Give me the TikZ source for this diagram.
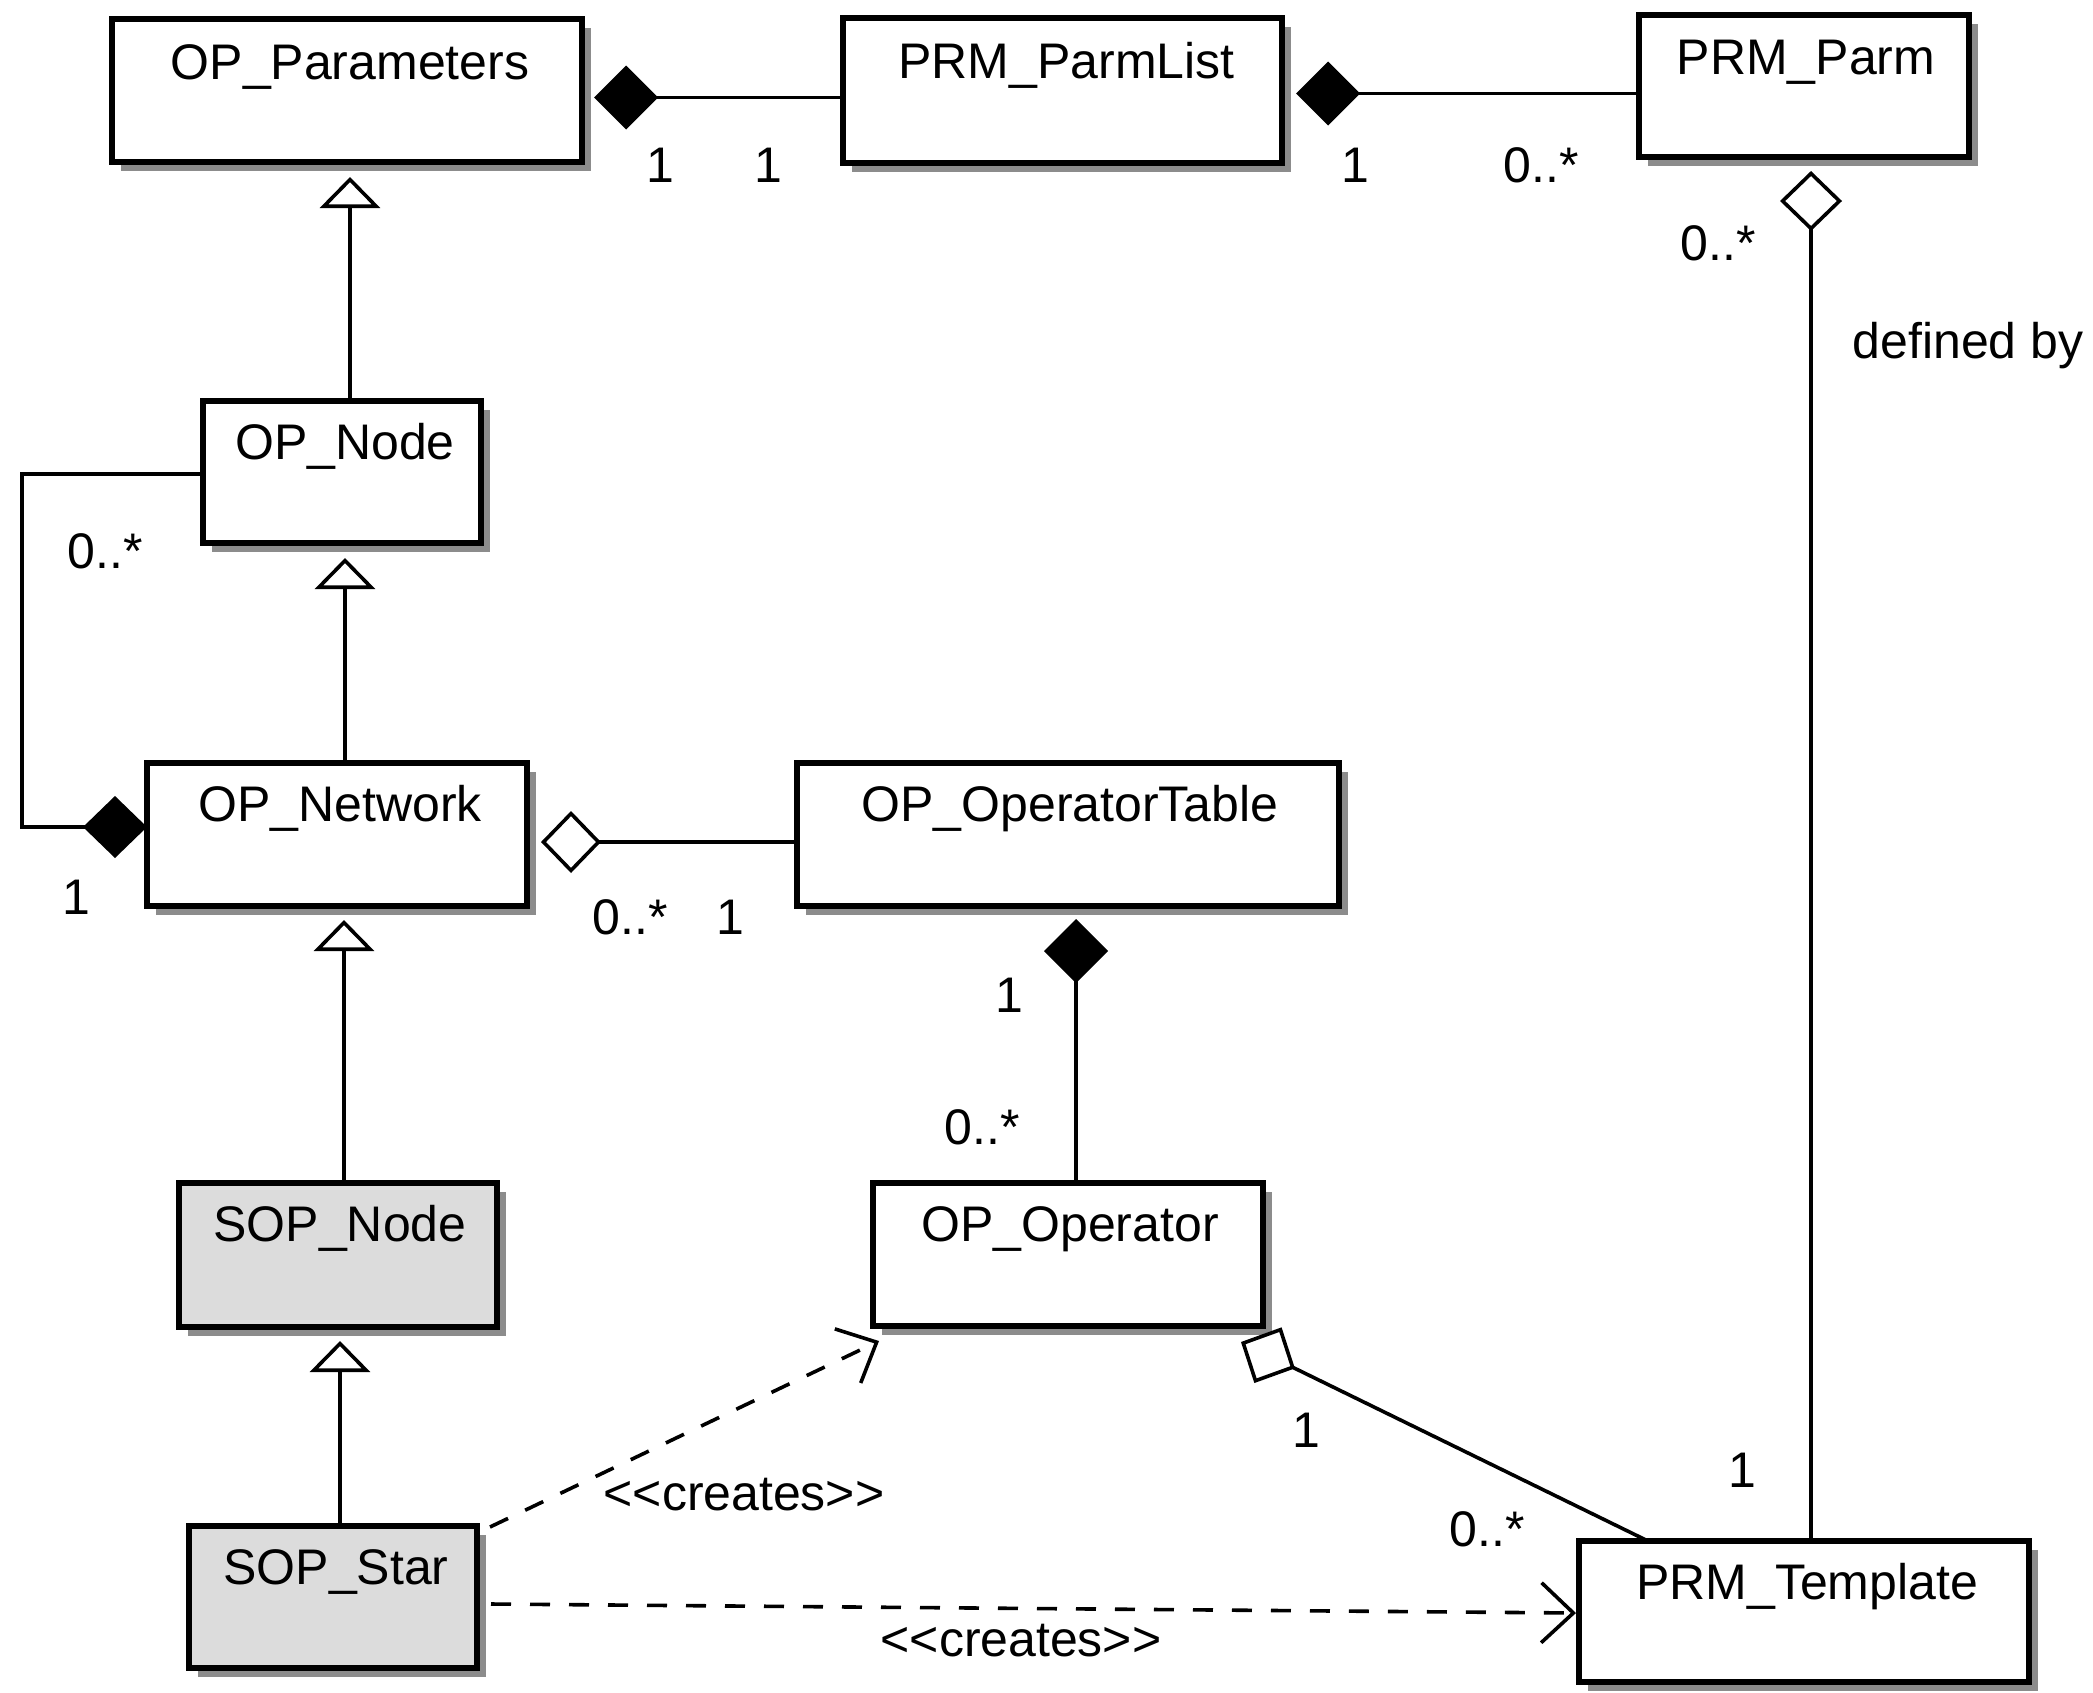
\documentclass[tikz,border=0pt]{standalone}
\usepackage{fontspec}
\setmainfont{Liberation Sans}
\usetikzlibrary{arrows.meta,shadows,fit,calc}
\definecolor{shadowc}{RGB}{140,140,140}
\definecolor{sopfill}{RGB}{220,220,220}
\begin{document}
\begin{tikzpicture}[x=0.5pt,y=-0.5pt,
  cls/.style={draw, line width=2.6pt, fill=white, inner sep=0pt, outer sep=0pt,
    drop shadow={shadow xshift=4.5pt, shadow yshift=-4.5pt, fill=shadowc, opacity=1}},
  sopcls/.style={cls, fill=sopfill},
  clsname/.style={font=\fontsize{25}{30}\selectfont, anchor=base, inner sep=0pt},
  multl/.style={font=\fontsize{25}{30}\selectfont, anchor=base, inner sep=0pt},
  conn/.style={line width=1.8pt},
  compos/.style={conn, {Diamond[length=32pt,width=32pt]}-},
  aggr/.style={conn, {Diamond[fill=white,length=30pt,width=31pt]}-},
  gener/.style={conn, {Triangle[fill=white,length=15.5pt,width=30pt]}-},
  depend/.style={conn, dash pattern=on 10pt off 9.5pt, -{Straight Barb[length=16pt,width=30pt]}}
]
\useasboundingbox (0,0) rectangle (2093,1692);

% classes
\node[cls, fit={(112,19) (582,162)}] (opparams) {};
\node[cls, fit={(843,18) (1282,163)}] (parmlist) {};
\node[cls, fit={(1639,15) (1969,157)}] (parm) {};
\node[cls, fit={(203,401) (481,543)}] (opnode) {};
\node[cls, fit={(147,763) (527,906)}] (opnet) {};
\node[cls, fit={(797,763) (1339,906)}] (optable) {};
\node[sopcls, fit={(179,1183) (497,1327)}] (sopnode) {};
\node[cls, fit={(873,1183) (1263,1326)}] (opop) {};
\node[sopcls, fit={(189,1526) (477,1668)}] (sopstar) {};
\node[cls, fit={(1579,1541) (2029,1682)}] (prmt) {};

% class names
\node[clsname] (opparams-t) at ($(opparams.north)+(3,60)$) {OP\_Parameters};
\node[clsname] (parmlist-t) at ($(parmlist.north)+(4,60)$) {PRM\_ParmList};
\node[clsname] (parm-t) at ($(parm.north)+(2,59)$) {PRM\_Parm};
\node[clsname] (opnode-t) at ($(opnode.north)+(3,58)$) {OP\_Node};
\node[clsname] (opnet-t) at ($(opnet.north)+(3,58)$) {OP\_Network};
\node[clsname] (optable-t) at ($(optable.north)+(2,58)$) {OP\_OperatorTable};
\node[clsname] (sopnode-t) at ($(sopnode.north)+(2,58)$) {SOP\_Node};
\node[clsname] (opop-t) at ($(opop.north)+(2,58)$) {OP\_Operator};
\node[clsname] (sopstar-t) at ($(sopstar.north)+(3,58)$) {SOP\_Star};
\node[clsname] (prmt-t) at ($(prmt.north)+(3,58)$) {PRM\_Template};

% tip points
\coordinate (c1) at ($(opparams.east)+(12,7)$);
\coordinate (c2) at ($(parmlist.east)+(14,3)$);
\coordinate (c3) at ($(parm.south)+(7,14)$);
\coordinate (g1) at ($(opparams.south)+(3,15)$);
\coordinate (g2) at ($(opnode.south)+(3,15)$);
\coordinate (g3) at ($(opnet.south)+(7,14)$);
\coordinate (g4) at ($(sopnode.south)+(2,14)$);
\coordinate (s1) at (22,474);
\coordinate (c9) at ($(opnet.east)+(14,7.5)$);
\coordinate (c10) at ($(optable.south)+(8,13)$);
\coordinate (c13) at ($(opop.south east)+(-22,16)$);

% connectors
\draw[compos] (c1) -- (parmlist.west |- c1);
\draw[compos] (c2) -- (parm.west |- c2);
\draw[aggr] (c3) -- (c3 |- prmt.north);
\draw[gener] (g1) -- (g1 |- opnode.north);
\draw[gener] (g2) -- (g2 |- opnet.north);
\draw[gener] (g3) -- (g3 |- sopnode.north);
\draw[gener] (g4) -- (g4 |- sopstar.north);
\draw[conn, -{Diamond[length=32pt,width=31pt]}] (opnode.west |- s1) -- (s1) |- ($(opnet.west)+(0,-7.5)$);
\draw[aggr] (c9) -- (optable.west |- c9);
\draw[compos] (c10) -- (c10 |- opop.north);
\draw[aggr] (c13) -- ($(prmt.north west)+(69,0)$);
\draw[depend] ($(sopstar.north east)+(13,1)$) -- ($(opop.south west)+(6,15)$);
\draw[depend] ($(sopstar.east)+(14,7)$) -- ($(prmt.west)+(-3,1.5)$);

% multiplicities and labels
\node[multl] (m1) at (660,182) {1};
\node[multl] (m2) at (768,182) {1};
\node[multl] (m3) at (1355,182) {1};
\node[multl] (m4) at (1541,182) {0..*};
\node[multl] (m5) at (1718,260) {0..*};
\node[multl] (defby) at (1968,358) {defined by};
\node[multl] (m6) at (105,568) {0..*};
\node[multl] (m7) at (76,914) {1};
\node[multl] (m8) at (630,934) {0..*};
\node[multl] (m9) at (730,934) {1};
\node[multl] (m10) at (1009,1012) {1};
\node[multl] (m11) at (982,1144) {0..*};
\node[multl] (m12) at (1306,1447) {1};
\node[multl] (m13) at (1742,1487) {1};
\node[multl] (m14) at (1487,1546) {0..*};
\node[multl] (cr1) at (744,1510) {<\kern0pt<creates>\kern0pt>};
\node[multl] (cr2) at (1021,1656) {<\kern0pt<creates>\kern0pt>};
\end{tikzpicture}
\end{document}
